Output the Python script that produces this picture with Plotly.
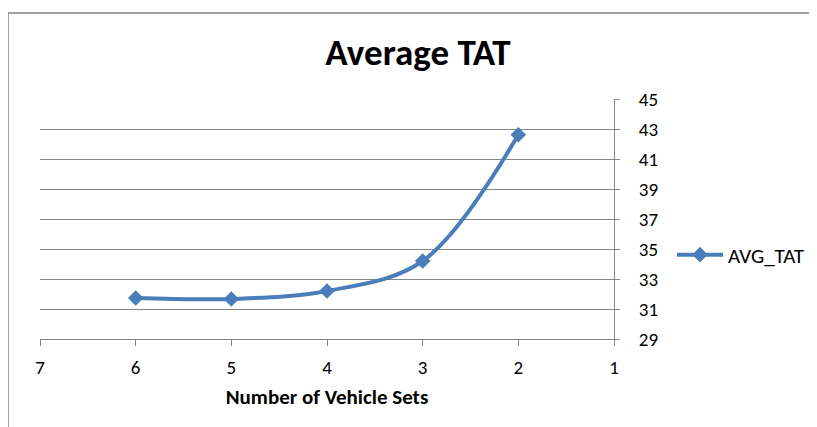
import plotly.graph_objects as go

vehicle_sets = [6, 5, 4, 3, 2]
avg_tat = [31.73, 31.67, 32.2, 34.2, 42.62]
x_ticks = [7, 6, 5, 4, 3, 2, 1]
y_ticks = [29, 31, 33, 35, 37, 39, 41, 43, 45]

FONT = "Carlito, Lato, 'Open Sans', sans-serif"
W, H = 817, 427
OFF = 8  # page body margin offset
L, T = 40 - OFF, 99 - OFF
PLOT_R, PLOT_B = 614 - OFF, 339 - OFF
R, B = W - PLOT_R, H - PLOT_B
pw, ph = PLOT_R - L, PLOT_B - T

def px_x(p):
    return (p - OFF - L) / pw

def px_y(p):
    return (PLOT_B - (p - OFF)) / ph

fig = go.Figure()
fig.add_trace(go.Scatter(
    x=vehicle_sets, y=avg_tat, name="AVG_TAT",
    mode="lines+markers",
    line=dict(color="#4A7EBB", width=4, shape="spline", smoothing=1),
    marker=dict(symbol="diamond", size=12, color="#4A7EBB"),
))

fig.update_layout(
    width=W, height=H,
    margin=dict(l=L, r=R, t=T, b=B),
    paper_bgcolor="white", plot_bgcolor="white",
    font=dict(family=FONT, size=17, color="black"),
    title=dict(text="<b>Average TAT</b>", xref="container", x=(418 - OFF) / W,
               xanchor="center", yref="container", y=1 - (52 - OFF) / H,
               yanchor="middle",
               font=dict(family=FONT, size=37, color="black")),
    showlegend=True,
    legend=dict(x=px_x(672), xanchor="left", y=px_y(255), yanchor="middle",
                itemwidth=46,
                font=dict(family=FONT, size=21, color="black"),
                bgcolor="rgba(0,0,0,0)"),
    xaxis=dict(range=[7, 1], tickvals=x_ticks, ticktext=[str(v) for v in x_ticks],
               showgrid=False, zeroline=False, showline=True, linecolor="#868686",
               linewidth=1, ticks="outside", ticklen=6, tickcolor="#868686",
               ticklabelstandoff=5,
               tickfont=dict(family=FONT, size=19),
               title=dict(text="<b>Number of Vehicle Sets</b>", standoff=11,
                          font=dict(family=FONT, size=21))),
    yaxis=dict(range=[29, 45], tickvals=y_ticks, side="right",
               showgrid=True, gridcolor="#868686", gridwidth=1,
               zeroline=False, showline=True, linecolor="#868686", linewidth=1,
               ticks="outside", ticklen=5, tickcolor="#868686",
               ticklabelstandoff=15,
               tickfont=dict(family=FONT, size=19)),
    shapes=[dict(type="rect", xref="paper", yref="paper",
                 x0=px_x(8), x1=px_x(840), y0=px_y(445), y1=px_y(13),
                 line=dict(color="#868686", width=1.5), layer="below")],
)

fig.write_html("out.html")
